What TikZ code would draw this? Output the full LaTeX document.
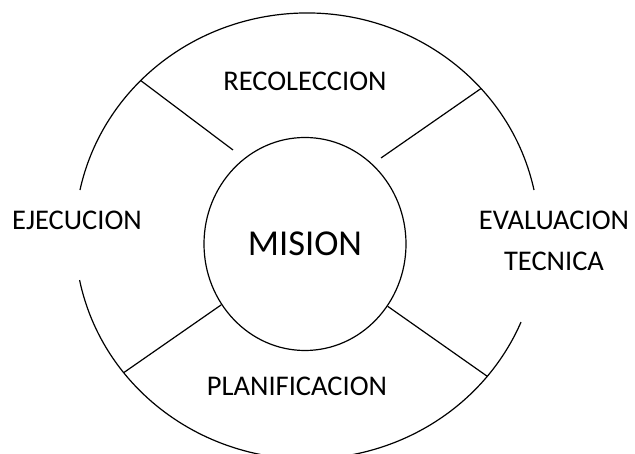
\documentclass[tikz,border=0pt]{standalone}
\usepackage{fontspec}
\setmainfont{Carlito}
\usetikzlibrary{shapes.geometric}

\begin{document}
\begin{tikzpicture}[x=1pt,y=1pt,
	ring/.style={line width=1.2pt},
	main_node/.style={ellipse,draw,line width=1.2pt,minimum width=202pt,minimum height=213pt,inner sep=0pt,font=\fontsize{36.5}{44}\selectfont},
	text_node/.style={inner sep=0pt,align=center,font=\fontsize{28.5}{41}\selectfont}]
	\useasboundingbox (0,0) rectangle (635,454);
	\node[main_node] (m) at (305,210) {MISION};
	\coordinate (o) at (307,218);
	% outer ring, open at left and right
	\draw[ring] (o) ++(11.9:232 and 223) arc[start angle=11.9,end angle=168.1,x radius=232,y radius=223];
	\draw[ring] (o) ++(191.4:232 and 223) arc[start angle=191.4,end angle=337.3,x radius=232,y radius=223];
	\path (o) ++(135.8:232 and 223) coordinate (ul);
	\path (o) ++(41.4:232 and 223) coordinate (ur);
	\path (o) ++(217.8:232 and 223) coordinate (ll);
	\path (o) ++(321:232 and 223) coordinate (lr);
	\coordinate (ul_in) at (233,304);
	\coordinate (ur_in) at (381,296);
	\draw[ring] (ul) -- (ul_in);
	\draw[ring] (ur) -- (ur_in);
	\draw[ring] (ll) -- (m.216);
	\draw[ring] (lr) -- (m.323);
	\node[text_node] (rec) at (305,373) {RECOLECCION};
	\node[text_node] (eje) at (77,234) {EJECUCION};
	\node[text_node] (eva) at (554,213.5) {EVALUACION\\TECNICA};
	\node[text_node] (pla) at (297,68) {PLANIFICACION};
\end{tikzpicture}
\end{document}
